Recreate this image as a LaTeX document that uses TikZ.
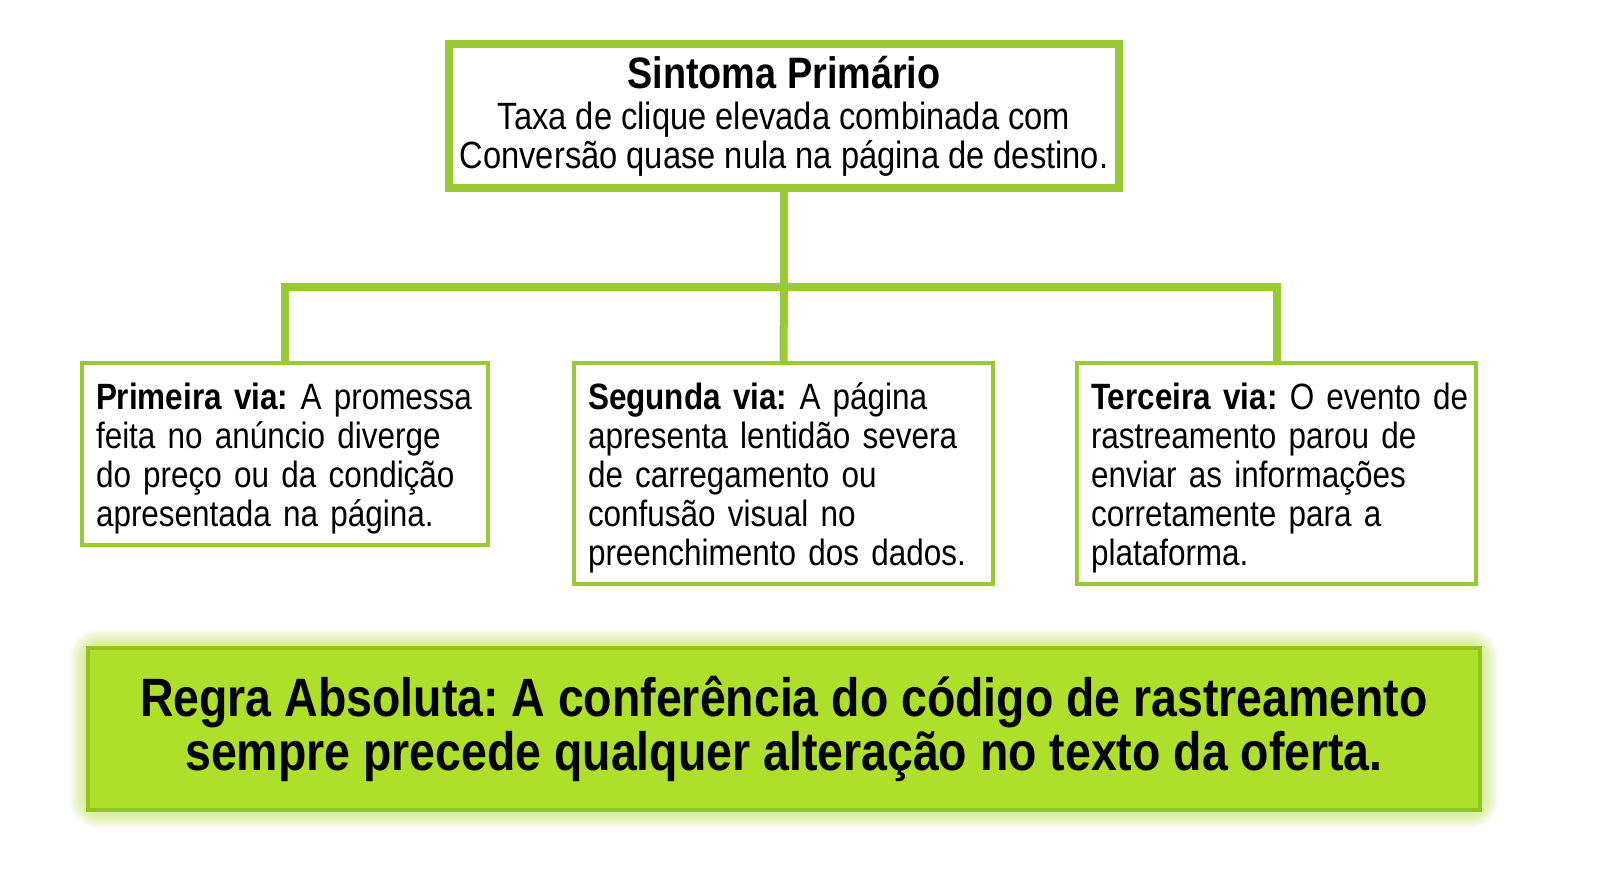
\documentclass[tikz,border=0pt]{standalone}
\usepackage{fontspec}
\setmainfont{Liberation Sans}[FakeStretch=0.86]
\usepackage{xcolor}
\usetikzlibrary{backgrounds}

\definecolor{limeline}{HTML}{98CA35}
\definecolor{limefill}{HTML}{AEDF2B}
\definecolor{limedark}{HTML}{92C320}

\frenchspacing
\begin{document}
\begin{tikzpicture}[x=0.5pt, y=-0.5pt,
        link/.style={draw=limeline, line width=4pt},
        viabox/.style={draw=limeline, line width=2pt, fill=white, align=left,
            inner xsep=7pt, font=\fontsize{18.3}{19.5}\selectfont},
        topbox/.style={draw=limeline, line width=4pt, fill=white, align=center,
            font=\fontsize{19}{19.5}\selectfont},
        rulebox/.style={draw=limedark, line width=2pt, fill=limefill, align=center,
            font=\fontsize{27}{27}\bfseries\selectfont}]
        \useasboundingbox (0,0) rectangle (1600,893);

        % Primary symptom
        \node[topbox, minimum width=335pt, minimum height=72pt] (top) at (784,116)
            {{\fontsize{22}{22}\bfseries\selectfont Sintoma Primário}\\[1pt]
             Taxa de clique elevada combinada com\\
             Conversão quase nula na página de destino.};

        % Three paths
        \node[viabox, text width=189pt, minimum height=90pt] (via1) at (285,454)
            {\begin{tabular}{@{}l@{}}
             \rule{0pt}{19.6pt}\textbf{Primeira via:} A promessa\\
             feita no anúncio diverge\\
             do preço ou da condição\\
             apresentada na página.
             \end{tabular}};
        \node[viabox, text width=195.5pt, minimum height=109.5pt] (via2) at (783.5,473.5)
            {\begin{tabular}{@{}l@{}}
             \rule{0pt}{19.6pt}\textbf{Segunda via:} A página\\
             apresenta lentidão severa\\
             de carregamento ou\\
             confusão visual no\\
             preenchimento dos dados.
             \end{tabular}};
        \node[viabox, text width=185.5pt, minimum height=109.5pt] (via3) at (1276.5,473.5)
            {\begin{tabular}{@{}l@{}}
             \rule{0pt}{19.6pt}\textbf{Terceira via:} O evento de\\
             rastreamento parou de\\
             enviar as informações\\
             corretamente para a\\
             plataforma.
             \end{tabular}};

        % Tree connectors
        \coordinate (bar) at (784,287);
        \draw[link] (top.south) -- (bar);
        \draw[link] (bar) -| (via1.north);
        \draw[link] (bar) -- (via2.north);
        \draw[link] (bar) -| (via3.north);

        % Absolute rule
        \node[rulebox, minimum width=696pt, minimum height=81pt] (regra) at (784,729)
            {Regra Absoluta: A conferência do código de rastreamento\\
             sempre precede qualquer alteração no texto da oferta.};

        \begin{scope}[on background layer]
            \fill[white] (0,0) rectangle (1600,893);
            \foreach \g in {2,4,...,16}
                \draw[limefill, opacity=0.07, line width=\g pt, rounded corners=6pt]
                    (regra.north west) rectangle (regra.south east);
        \end{scope}
    \end{tikzpicture}
\end{document}
